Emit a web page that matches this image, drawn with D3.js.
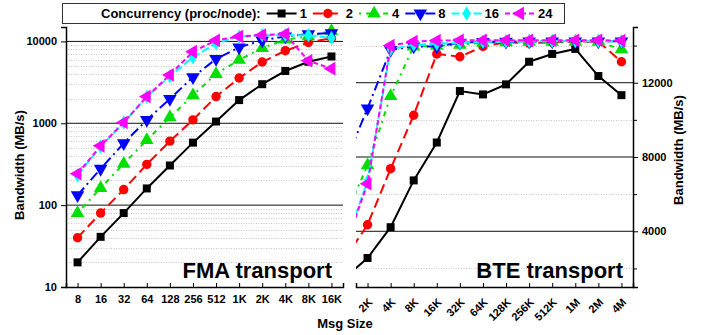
<!DOCTYPE html>
<html>
<head>
<meta charset="utf-8">
<script src="https://cdn.jsdelivr.net/npm/d3@7"></script>
<style>
  body { margin: 0; background: #fff; }
  svg { font-family: "Liberation Sans", Arial, sans-serif; font-weight: bold; }
</style>
</head>
<body>
<svg id="chart" width="704" height="335"></svg>
<script>
// message sizes
var fmaSizes = ['8','16','32','64','128','256','512','1K','2K','4K','8K','16K'];
var bteSizes = ['1K','2K','4K','8K','16K','32K','64K','128K','256K','512K','1M','2M','4M'];
var bteShown = bteSizes.slice(1);

var procs = ['1','2','4','8','16','24'];

// FMA bandwidth (MB/s), one array per concurrency
var fma1  = [20, 41, 80, 160, 305, 580, 1050, 1920, 3000, 4350, 5650, 6550];
var fma2  = [40, 80, 155, 315, 605, 1100, 2120, 3570, 5600, 7700, 9700, 10900];
var fma4  = [80, 162, 320, 625, 1180, 2200, 4000, 5950, 8300, 10500, 11500, 13400];
var fma8  = [132, 278, 570, 1100, 1980, 3670, 6100, 8450, 10300, 11500, 12300, 12600];
var fma16 = [232, 517, 1020, 2100, 3750, 6400, 9500, 11400, 11900, 11900, 11900, 11000];
var fma24 = [242, 530, 1020, 2120, 3900, 7500, 10300, 11500, 12000, 12300, 5800, 4650];

// BTE bandwidth (MB/s), first value (1K) lies left of the visible range
var bte1  = [1480, 2560, 4220, 6740, 8780, 11550, 11370, 11910, 13130, 13550, 13820, 12360, 11330];
var bte2  = [2500, 4350, 7370, 10250, 13550, 13400, 13950, 14180, 14130, 14180, 14220, 14220, 13130];
var bte4  = [4740, 7550, 11280, 13950, 13980, 14040, 14150, 14180, 14200, 14200, 14200, 14200, 13800];
var bte8  = [7600, 10620, 13770, 13950, 13950, 14160, 14200, 14210, 14220, 14220, 14230, 14230, 14230];
var bte16 = [3200, 6700, 13800, 14050, 14100, 14150, 14200, 14220, 14230, 14240, 14240, 14240, 14230];
var bte24 = [3090, 6560, 14000, 14220, 14270, 14280, 14280, 14280, 14290, 14290, 14290, 14290, 14270];

var fmaData = [fma1, fma2, fma4, fma8, fma16, fma24];
var bteData = [bte1, bte2, bte4, bte8, bte16, bte24];

var logTicks = [10, 100, 1000, 10000];
var linTicks = [4000, 8000, 12000];
var linMinor = [2000, 6000, 10000, 14000];

var colors = ['#000000', '#ff0000', '#00e000', '#0000ff', '#00ffff', '#ff00ff'];
var dashes = ['none', '10,5', '2,5,5,5', '10,4,2,4', '8,3', '5,3'];
var shapes = [d3.symbolSquare, d3.symbolCircle, d3.symbolTriangle, d3.symbolTriangle, d3.symbolDiamond, d3.symbolTriangle];
var sizes = [64, 70, 80, 80, 60, 80];
var rots = [0, 0, 0, 180, 0, -90];

var svg = d3.select('#chart');
var plotTop = 27, plotBottom = 287;

var yLog = d3.scaleLog().domain([10, 15000]).range([plotBottom, plotTop]);
var yLin = d3.scaleLinear().domain([1000, 15000]).range([plotBottom, plotTop]);

var xF = d3.scalePoint().domain(fmaSizes).range([66, 343]).padding(0.5);
var xB = d3.scalePoint().domain(bteShown).range([356, 633]).padding(0.5);
function xBte(i) { return xB(bteShown[0]) + (i - 1) * xB.step(); }

svg.append('clipPath').attr('id', 'clipB')
  .append('rect').attr('x', 356).attr('y', 0).attr('width', 290).attr('height', 300);

// ---- left grid
var minor = [];
logTicks.forEach(function (d) { for (var k = 2; k < 10; k++) if (d * k < 15000) minor.push(d * k); });
var gL = svg.append('g');
gL.selectAll('.mn').data(minor).enter().append('line')
  .attr('x1', 66).attr('x2', 343)
  .attr('y1', function (d) { return Math.round(yLog(d)) + 0.5; })
  .attr('y2', function (d) { return Math.round(yLog(d)) + 0.5; })
  .attr('stroke', '#c8c8c8').attr('stroke-dasharray', '1,1.5');
gL.selectAll('.mj').data(logTicks.slice(1)).enter().append('line')
  .attr('x1', 66).attr('x2', 343)
  .attr('y1', function (d) { return yLog(d); })
  .attr('y2', function (d) { return yLog(d); })
  .attr('stroke', '#111').attr('stroke-width', 1);

// ---- right grid
var gR = svg.append('g');
gR.selectAll('.mn').data(linMinor).enter().append('line')
  .attr('x1', 356).attr('x2', 633)
  .attr('y1', function (d) { return Math.round(yLin(d)) + 0.5; })
  .attr('y2', function (d) { return Math.round(yLin(d)) + 0.5; })
  .attr('stroke', '#c8c8c8').attr('stroke-dasharray', '1,1.5');
gR.selectAll('.mj').data(linTicks).enter().append('line')
  .attr('x1', 356).attr('x2', 633)
  .attr('y1', function (d) { return yLin(d); })
  .attr('y2', function (d) { return yLin(d); })
  .attr('stroke', '#111').attr('stroke-width', 1);

// ---- axes
var axL = d3.axisLeft(yLog).tickValues(logTicks).tickFormat(d3.format('d')).tickSize(5).tickPadding(4);
svg.append('g').attr('class', 'ax').attr('transform', 'translate(66,0)').call(axL);
var axR = d3.axisRight(yLin).tickValues(linTicks).tickFormat(d3.format('d')).tickSize(5).tickPadding(4);
svg.append('g').attr('class', 'ax').attr('transform', 'translate(633,0)').call(axR);
svg.append('g').attr('transform', 'translate(633,0)').call(
  d3.axisRight(yLin).tickValues(linMinor).tickFormat('').tickSize(4)).select('.domain').remove();

var axFx = d3.axisBottom(xF).tickSize(-4).tickPadding(8);
svg.append('g').attr('class', 'ax').attr('transform', 'translate(0,' + plotBottom + ')').call(axFx);
var axBx = d3.axisBottom(xB).tickSize(-4).tickPadding(8);
var gbx = svg.append('g').attr('class', 'ax').attr('transform', 'translate(0,' + plotBottom + ')').call(axBx);
gbx.selectAll('text')
  .attr('text-anchor', 'end')
  .attr('dy', null).attr('y', null)
  .attr('transform', 'translate(5,16) rotate(-45)');

svg.selectAll('.ax .domain').attr('stroke', '#000').attr('stroke-width', 1.5);
svg.selectAll('.ax .tick line').attr('stroke', '#000');
svg.selectAll('.ax text').attr('font-size', 11).attr('font-weight', 'bold').attr('fill', '#000')
  .attr('font-family', '"Liberation Sans", Arial, sans-serif');

// ---- series
var lineF = d3.line().x(function (d, i) { return xF(fmaSizes[i]); }).y(function (d) { return yLog(d); });
var lineB = d3.line().x(function (d, i) { return xBte(i); }).y(function (d) { return yLin(d); });

function marker(i) {
  return d3.symbol().type(shapes[i]).size(sizes[i]);
}

fmaData.forEach(function (s, i) {
  var g = svg.append('g');
  g.append('path').attr('d', lineF(s)).attr('fill', 'none')
    .attr('stroke', colors[i]).attr('stroke-width', 2).attr('stroke-dasharray', dashes[i]);
  g.selectAll('path.m').data(s).enter().append('path').attr('class', 'm')
    .attr('d', marker(i)())
    .attr('transform', function (d, j) {
      return 'translate(' + xF(fmaSizes[j]) + ',' + yLog(d) + ') rotate(' + rots[i] + ')';
    })
    .attr('fill', colors[i]);
});

bteData.forEach(function (s, i) {
  var g = svg.append('g').attr('clip-path', 'url(#clipB)');
  g.append('path').attr('d', lineB(s)).attr('fill', 'none')
    .attr('stroke', colors[i]).attr('stroke-width', 2).attr('stroke-dasharray', dashes[i]);
  g.selectAll('path.m').data(s.slice(1)).enter().append('path').attr('class', 'm')
    .attr('d', marker(i)())
    .attr('transform', function (d, j) {
      return 'translate(' + xBte(j + 1) + ',' + yLin(d) + ') rotate(' + rots[i] + ')';
    })
    .attr('fill', colors[i]);
});

// ---- panel titles and axis titles
svg.append('text').attr('x', 332).attr('y', 278).attr('text-anchor', 'end')
  .attr('font-size', 22).text('FMA transport');
svg.append('text').attr('x', 623).attr('y', 278).attr('text-anchor', 'end')
  .attr('font-size', 22).text('BTE transport');
svg.append('text').attr('transform', 'translate(24,165) rotate(-90)').attr('text-anchor', 'middle')
  .attr('font-size', 13).text('Bandwidth (MB/s)');
svg.append('text').attr('transform', 'translate(683,150) rotate(-90)').attr('text-anchor', 'middle')
  .attr('font-size', 13).text('Bandwidth (MB/s)');
svg.append('text').attr('x', 345).attr('y', 328).attr('text-anchor', 'middle')
  .attr('font-size', 13).text('Msg Size');

// ---- legend
var leg = svg.append('g');
leg.append('rect').attr('x', 62.5).attr('y', 3.5).attr('width', 502).attr('height', 20)
  .attr('fill', '#fff').attr('stroke', '#333');
var lt = leg.append('text').attr('x', 101).attr('y', 18).attr('font-size', 13).text('Concurrency (proc/node):');
var cx = 101 + lt.node().getComputedTextLength() + 6;
procs.forEach(function (p, i) {
  leg.append('line').attr('x1', cx).attr('x2', cx + 30).attr('y1', 13.5).attr('y2', 13.5)
    .attr('stroke', colors[i]).attr('stroke-width', 2).attr('stroke-dasharray', dashes[i]);
  leg.append('path').attr('d', marker(i)())
    .attr('transform', 'translate(' + (cx + 15) + ',13.5) rotate(' + rots[i] + ')')
    .attr('fill', colors[i]);
  var t = leg.append('text').attr('x', cx + 33).attr('y', 18).attr('font-size', 13).text(p);
  cx += 33 + t.node().getComputedTextLength() + 6;
});
</script>
</body>
</html>
